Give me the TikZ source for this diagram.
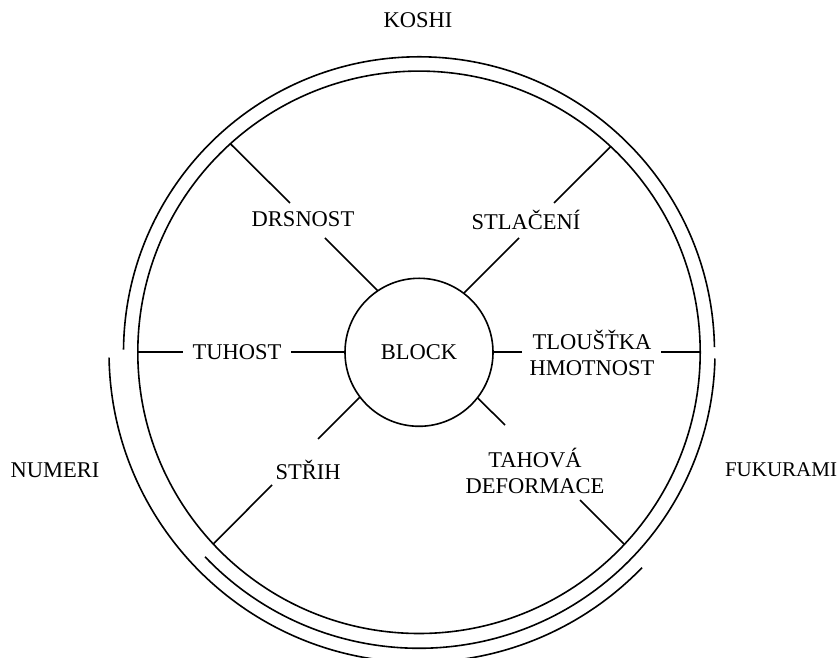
\documentclass[tikz,border=0pt]{standalone}
\usepackage{fontspec}
\setmainfont{Liberation Serif}
\begin{document}
\begin{tikzpicture}[x=1pt,y=1pt,
  ln/.style={line width=1.6pt,line cap=butt},
  lbl/.style={font=\fontsize{22.5}{26}\selectfont,inner sep=0pt,align=center}]
\useasboundingbox (0,0) rectangle (840,658);
\clip (0,0) rectangle (840,658);
\coordinate (C) at (419,305.7);
% outer arcs
\draw[ln] (C) ++(1:295.5) arc[start angle=1,end angle=179.5,radius=295.5];
\draw[ln] (C) ++(181:310) arc[start angle=181,end angle=316,radius=310];
\draw[ln] (C) ++(223.7:296) arc[start angle=223.7,end angle=358.8,radius=296];
% inner circle and block
\node[ln,draw,circle,minimum size=562.4pt,inner sep=0pt] (ring) at (C) {};
\node[ln,draw,circle,minimum size=148pt,inner sep=0pt,lbl] (block) at (C) {BLOCK};
% labels
\node[lbl] (koshi) at (418,638) {KOSHI};
\node[lbl] (numeri) at (55,188) {NUMERI};
\node[lbl,font=\fontsize{21}{26}\selectfont] (fukurami) at (781,188) {FUKURAMI};
\node[lbl] (drs) at (303,439) {DRSNOST};
\node[lbl] (stl) at (526,438) {STLAČENÍ};
\node[lbl] (tuh) at (237,306) {TUHOST};
\node[lbl] (tlo) at (592,305) {TLOUŠŤKA\\HMOTNOST};
\node[lbl] (str) at (308,188) {STŘIH};
\node[lbl] (tah) at (535,187) {TAHOVÁ\\DEFORMACE};
% spoke coordinates
\coordinate (d1) at (230.3,514.3); \coordinate (d2) at (290,455);
\coordinate (d3) at (325,420);     \coordinate (d4) at (377.6,367.4);
\coordinate (s1) at (610.6,511.4); \coordinate (s2) at (554,455);
\coordinate (s3) at (519,420);     \coordinate (s4) at (463.9,365);
\coordinate (t1) at (137.8,305.7); \coordinate (t2) at (183,305.7);
\coordinate (t3) at (291,305.7);   \coordinate (t4) at (345,305.7);
\coordinate (h1) at (700.2,305.7); \coordinate (h2) at (661,305.7);
\coordinate (h3) at (522,305.7);   \coordinate (h4) at (493,305.7);
\coordinate (r1) at (213.3,114);   \coordinate (r2) at (272,173);
\coordinate (r3) at (318,219);     \coordinate (r4) at (360.1,261);
\coordinate (a1) at (624.2,113.8); \coordinate (a2) at (580,158);
\coordinate (a3) at (505,233);     \coordinate (a4) at (477.4,260.3);
\foreach \p in {d,s,t,h,r,a}{
  \draw[ln] (\p1) -- (\p2);
  \draw[ln] (\p3) -- (\p4);
}
\end{tikzpicture}
\end{document}
